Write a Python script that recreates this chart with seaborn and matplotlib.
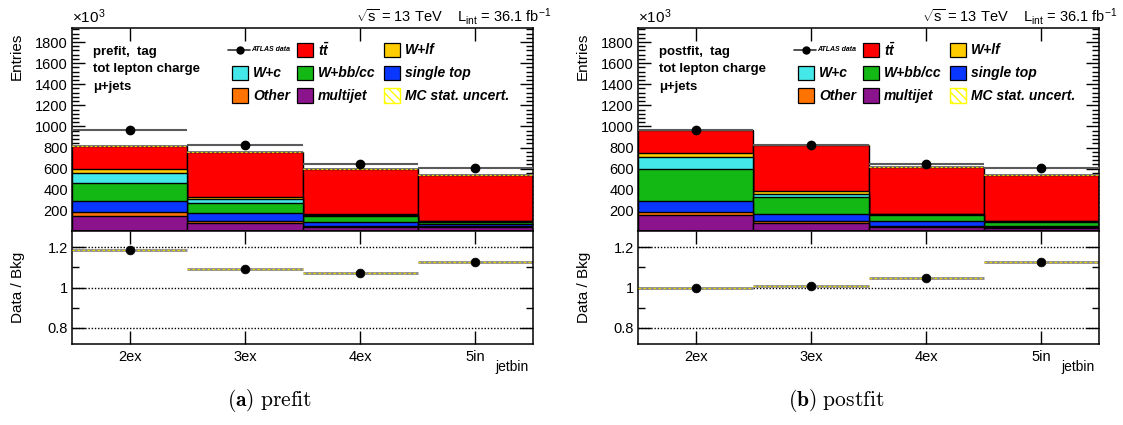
import numpy as np
import pandas as pd
import matplotlib
matplotlib.use("Agg")
import matplotlib.pyplot as plt
from matplotlib.patches import Rectangle
from matplotlib.lines import Line2D
from matplotlib.ticker import MultipleLocator, FixedLocator, NullFormatter, FixedFormatter
import seaborn as sns

# ---------------- data (units of 10^3 entries) ----------------
jetbins = ["2ex", "3ex", "4ex", "5in"]

# stacking order, bottom to top
process_names = ["multijet", "Other", "single top", "W+bb/cc", "W+c", "W+lf", "ttbar"]
process_colors = ["#8b138b", "#ff7300", "#0a37ff", "#14b814", "#45e8e8", "#ffcc00", "#ff0000"]

prefit_multijet = [150, 86, 49, 46]
prefit_other = [37, 19, 9, 9]
prefit_single_top = [104, 76, 38, 20]
prefit_wbbcc = [174, 95, 54, 23]
prefit_wc = [95, 34, 9, 4]
prefit_wlf = [41, 22, 9, 4]
prefit_ttbar = [211, 426, 433, 432]

postfit_multijet = [159, 86, 49, 40]
postfit_other = [35, 16, 9, 10]
postfit_single_top = [104, 73, 44, 11]
postfit_wbbcc = [303, 157, 57, 36]
postfit_wc = [110, 32, 11, 4]
postfit_wlf = [38, 22, 5, 4]
postfit_ttbar = [214, 434, 441, 433]

data_counts = [963, 828, 645, 607]

# ---------------- style ----------------
sns.set_style("ticks")
plt.rcParams["font.family"] = ["Liberation Sans", "DejaVu Sans"]
plt.rcParams["mathtext.fontset"] = "custom"
plt.rcParams["mathtext.rm"] = "Liberation Sans"
plt.rcParams["mathtext.it"] = "Liberation Sans:italic"
plt.rcParams["mathtext.bf"] = "Liberation Sans:bold"
plt.rcParams["mathtext.bfit"] = "Liberation Sans:bold:italic"
plt.rcParams["hatch.linewidth"] = 1.0
plt.rcParams["axes.linewidth"] = 1.1
for key in ("text.color", "axes.labelcolor", "xtick.color", "ytick.color", "axes.edgecolor"):
    plt.rcParams[key] = "black"

W, H = 1123, 425
fig = plt.figure(figsize=(W / 100, H / 100), dpi=100)

TOP_Y0, TOP_H = 1 - 231 / H, (231 - 28.3) / H
RAT_Y0, RAT_H = 1 - 344 / H, (344 - 231) / H
AX_W = 461 / W


def style_axes(ax, ymajor, yminor):
    ax.yaxis.set_major_locator(ymajor)
    ax.yaxis.set_minor_locator(yminor)
    ax.xaxis.set_major_locator(FixedLocator([0, 1, 2, 3]))
    ax.tick_params(axis="both", which="major", direction="in", top=True, right=True,
                   length=9.5, width=1.0, labelsize=10.5, pad=3, colors="black")
    ax.tick_params(axis="y", which="minor", direction="in", left=True, right=True,
                   length=5, width=1.0, colors="black")
    ax.tick_params(axis="x", which="minor", bottom=False, top=False)
    ax.set_xlim(-0.5, 3.5)
    for sp in ax.spines.values():
        sp.set_visible(True)
        sp.set_color("black")


def draw_panel(left_px, stack, tag, caption):
    x0 = left_px / W
    ax = fig.add_axes([x0, TOP_Y0, AX_W, TOP_H])
    rax = fig.add_axes([x0, RAT_Y0, AX_W, RAT_H])

    stack = np.array(stack, dtype=float)
    cum = np.cumsum(stack, axis=0)
    total = cum[-1]
    xs = np.arange(len(jetbins))

    # stacked histogram: cumulative bars painted from the top component down
    for i in range(len(process_names) - 1, -1, -1):
        df = pd.DataFrame({"jetbin": jetbins, "entries": cum[i]})
        sns.barplot(data=df, x="jetbin", y="entries", order=jetbins, color=process_colors[i],
                    saturation=1, width=1.0, edgecolor="black", linewidth=1.0,
                    errorbar=None, ax=ax, zorder=2)

    # MC statistical uncertainty outline on top of the stack
    ax.hlines(total, xs - 0.5, xs + 0.5, colors="#666666", linewidth=1.2, zorder=3)
    ax.hlines(total, xs - 0.5, xs + 0.5, colors="#e8d400", linestyles=(0, (2, 2)),
              linewidth=0.8, zorder=3)

    # data
    ax.errorbar(xs, data_counts, xerr=0.5, fmt="o", color="black", ecolor="#5a5a5a",
                elinewidth=1.5, ms=6, capsize=0, zorder=5)

    ax.set_ylim(10, 1930)
    ax.set_xlabel("")
    ax.set_ylabel("")
    style_axes(ax, MultipleLocator(200), MultipleLocator(40))
    ax.set_yticks([200, 400, 600, 800, 1000, 1200, 1400, 1600, 1800])
    ax.xaxis.set_major_formatter(NullFormatter())

    ax.text(-0.119, 0.977, "Entries", rotation=90, ha="center", va="top",
            fontsize=11, transform=ax.transAxes)
    ax.text(0.0, 1.012, r"$\times$10$^{3}$", ha="left", va="bottom", fontsize=11,
            transform=ax.transAxes)
    ax.text(1.04, 1.056, r"$\sqrt{\mathrm{s}}$ = 13 TeV    L$_{\mathrm{int}}$ = 36.1 fb$^{-1}$",
            ha="right", va="center", fontsize=10.5, transform=ax.transAxes)

    # labels in the upper-left corner
    for txt, yy in zip([tag, "tot lepton charge", "\u03bc+jets"], [0.885, 0.800, 0.709]):
        ax.text(0.046, yy, txt, ha="left", va="center", fontsize=9.5, fontweight="bold",
                transform=ax.transAxes)

    # legend, three columns
    col_x = [0.347, 0.488, 0.677]
    row_y = [0.893, 0.780, 0.668]
    bw, bh = 0.0347, 0.072
    entries = [
        ("data", "ATLAS data", 0, 0),
        (6, r"$\mathbfit{t\bar{t}}$", 1, 0),
        (5, "W+lf", 2, 0),
        (4, "W+c", 0, 1),
        (3, "W+bb/cc", 1, 1),
        (2, "single top", 2, 1),
        (1, "Other", 0, 2),
        (0, "multijet", 1, 2),
        ("unc", "MC stat. uncert.", 2, 2),
    ]
    for key, label, c, r in entries:
        bx, by = col_x[c], row_y[r]
        if key == "data":
            ax.add_line(Line2D([bx - 0.008, bx + bw + 0.004], [by, by], color="#333333",
                               lw=1.2, transform=ax.transAxes, zorder=6))
            ax.add_line(Line2D([bx + bw / 2], [by], marker="o", ms=5, color="black",
                               transform=ax.transAxes, zorder=6))
            ax.text(bx + bw + 0.007, by, label, ha="left", va="center", fontsize=5,
                    fontweight="bold", style="italic", transform=ax.transAxes)
            continue
        if key == "unc":
            patch = Rectangle((bx, by - bh / 2), bw, bh, facecolor="white",
                              edgecolor="#ffff00", hatch="\\\\\\\\", lw=1.0,
                              transform=ax.transAxes, zorder=6)
        else:
            patch = Rectangle((bx, by - bh / 2), bw, bh, facecolor=process_colors[key],
                              edgecolor="black", lw=0.9, transform=ax.transAxes, zorder=6)
        ax.add_patch(patch)
        ax.text(bx + bw + 0.011, by, label, ha="left", va="center", fontsize=10,
                fontweight="bold", style="italic", transform=ax.transAxes)

    # ratio panel
    ratio = np.array(data_counts) / total
    for yv in (0.8, 1.0, 1.2):
        rax.axhline(yv, color="black", linestyle=(0, (1, 1.3)), linewidth=1.0, zorder=1)
    rax.hlines(ratio, xs - 0.5, xs + 0.5, colors="#8a8a8a", linewidth=2.0, zorder=2)
    rax.hlines(ratio, xs - 0.5, xs + 0.5, colors="#e8d400", linestyles=(0, (2, 2)),
               linewidth=0.9, zorder=3)
    sns.scatterplot(x=xs, y=ratio, color="black", s=40, edgecolor="black", ax=rax, zorder=5)
    rax.set_ylim(0.72, 1.28)
    style_axes(rax, FixedLocator([0.8, 1.0, 1.2]), MultipleLocator(0.1))
    rax.yaxis.set_major_formatter(FixedFormatter(["0.8", "1", "1.2"]))
    rax.set_xticks(xs)
    rax.set_xticklabels(jetbins)
    rax.tick_params(axis="x", which="major", pad=4)
    rax.text(-0.117, 0.5, "Data / Bkg", rotation=90, ha="center", va="center",
             fontsize=11, transform=rax.transAxes)
    rax.text(0.99, -0.2, "jetbin", ha="right", va="center", fontsize=10,
             transform=rax.transAxes)

    fig.text((left_px + 198) / W, 1 - 401 / H, caption, ha="center", va="center",
             fontsize=15.5, math_fontfamily="cm")


prefit_stack = [prefit_multijet, prefit_other, prefit_single_top, prefit_wbbcc,
                prefit_wc, prefit_wlf, prefit_ttbar]
postfit_stack = [postfit_multijet, postfit_other, postfit_single_top, postfit_wbbcc,
                 postfit_wc, postfit_wlf, postfit_ttbar]

draw_panel(72, prefit_stack, "prefit,  tag", r"$\mathbf{(a)}\ \mathrm{prefit}$")
draw_panel(638, postfit_stack, "postfit,  tag", r"$\mathbf{(b)}\ \mathrm{postfit}$")

fig.savefig("out.png", dpi=100)
